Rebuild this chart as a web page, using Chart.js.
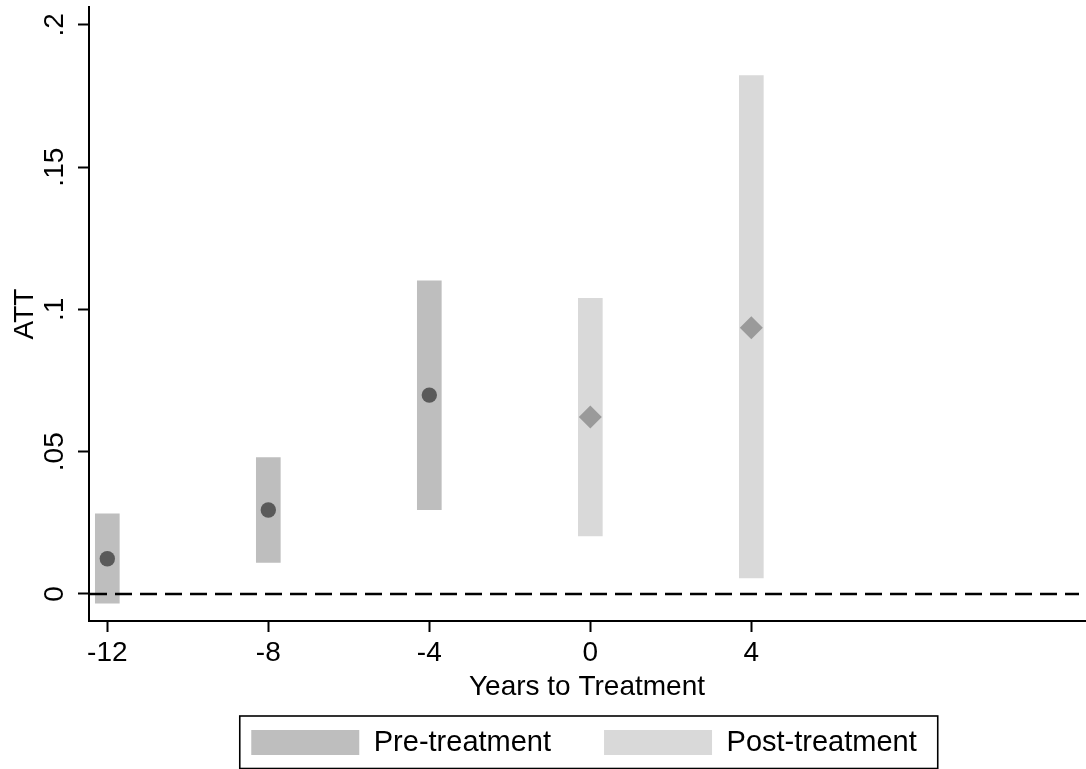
<!DOCTYPE html>
<html>
<head>
<meta charset="utf-8">
<title>ATT by years to treatment</title>
<script src="https://cdn.jsdelivr.net/npm/chart.js@4.4.1/dist/chart.umd.min.js"></script>
<style>
  html, body { margin: 0; padding: 0; background: #ffffff; }
  #wrap { width: 1086px; height: 769px; }
</style>
</head>
<body>
<div id="wrap"><canvas id="c" width="1086" height="769"></canvas></div>
<script>
// Event-time estimates: point estimate with lower / upper confidence bounds
const preYears  = [-12, -8, -4];
const preATT    = [0.0124, 0.0295, 0.0699];
const preLower  = [-0.0032, 0.0111, 0.0296];
const preUpper  = [0.0282, 0.0479, 0.1101];

const postYears = [0, 4];
const postATT   = [0.0622, 0.0936];
const postLower = [0.0204, 0.0056];
const postUpper = [0.1039, 0.1822];

// Axis ticks and labels
const xTicks = [-12, -8, -4, 0, 4];
const yTicks = [0, 0.05, 0.1, 0.15, 0.2];
const yTickLabels = ['0', '.05', '.1', '.15', '.2'];
const xRange = [-12.455, 12.29];
const yRange = [-0.0095, 0.2063];
const zeroLine = 0;

const legendNames = ['Pre-treatment', 'Post-treatment'];

const PRE_BAR = '#bebebe';
const POST_BAR = '#d9d9d9';
const PRE_PT = '#5a5a5a';
const POST_PT = '#9a9a9a';
const FONT = '"Liberation Sans", Arial, Helvetica, sans-serif';

Chart.defaults.font.family = FONT;
Chart.defaults.color = '#000000';

const bandData = (xs, lo, hi) => xs.map((x, i) => ({ x: x, y: [lo[i], hi[i]] }));
const pointData = (xs, v) => xs.map((x, i) => ({ x: x, y: v[i] }));

// Dashed reference line at zero, plus rotated y tick labels
const refLinePlugin = {
  id: 'refLine',
  afterDatasetsDraw(chart) {
    const { ctx, chartArea, scales } = chart;
    const y = scales.y.getPixelForValue(zeroLine);
    ctx.save();
    ctx.strokeStyle = '#000000';
    ctx.lineWidth = 2.6;
    ctx.setLineDash([17, 8]);
    ctx.beginPath();
    ctx.moveTo(chartArea.left + 1, y);
    ctx.lineTo(chartArea.right - 6, y);
    ctx.stroke();
    ctx.restore();
  },
  afterDraw(chart) {
    const { ctx, scales } = chart;
    const ys = scales.y;
    ctx.save();
    ctx.fillStyle = '#000000';
    ctx.font = '28px ' + FONT;
    ctx.textAlign = 'center';
    ctx.textBaseline = 'middle';
    ys.ticks.forEach((t) => {
      const py = ys.getPixelForValue(t.value);
      ctx.save();
      ctx.translate(ys.right - 34, py);
      ctx.rotate(-Math.PI / 2);
      ctx.fillText(t.label, 0, 0);
      ctx.restore();
    });
    ctx.restore();
  }
};

// Legend centred under the plot area, framed by a box
const legendFramePlugin = {
  id: 'legendFrame',
  afterLayout(chart) {
    const lg = chart.legend;
    const ca = chart.chartArea;
    const dx = (ca.left + ca.right) / 2 - 3 - (lg.left + lg.right) / 2;
    lg.left += dx;
    lg.right += dx;
  },
  afterDraw(chart) {
    const lg = chart.legend;
    const hb = lg.legendHitBoxes;
    if (!hb || !hb.length) return;
    const first = hb[0];
    const last = hb[hb.length - 1];
    const cy = first.top + first.height / 2;
    const ctx = chart.ctx;
    const x0 = first.left - 11.5;
    const x1 = last.left + last.width + 21;
    ctx.save();
    ctx.strokeStyle = '#000000';
    ctx.lineWidth = 1.6;
    ctx.strokeRect(x0, cy - 26.5, x1 - x0, 52.5);
    ctx.restore();
  }
};

new Chart(document.getElementById('c'), {
  type: 'bar',
  data: {
    datasets: [
      {
        label: legendNames[0],
        data: bandData(preYears, preLower, preUpper),
        backgroundColor: PRE_BAR,
        borderWidth: 0,
        barThickness: 24,
        grouped: false,
        order: 3
      },
      {
        label: legendNames[1],
        data: bandData(postYears, postLower, postUpper),
        backgroundColor: POST_BAR,
        borderWidth: 0,
        barThickness: 24,
        grouped: false,
        order: 3
      },
      {
        type: 'scatter',
        label: 'pre-point',
        data: pointData(preYears, preATT),
        pointStyle: 'circle',
        pointRadius: 7.7,
        pointHoverRadius: 7.7,
        backgroundColor: PRE_PT,
        borderWidth: 0,
        order: 1
      },
      {
        type: 'scatter',
        label: 'post-point',
        data: pointData(postYears, postATT),
        pointStyle: 'rectRot',
        pointRadius: 11.5,
        pointHoverRadius: 11.5,
        backgroundColor: POST_PT,
        borderWidth: 0,
        order: 1
      }
    ]
  },
  options: {
    responsive: false,
    animation: false,
    devicePixelRatio: 1,
    layout: { autoPadding: false, padding: { top: 7, right: 1, left: 0, bottom: 2 } },
    plugins: {
      tooltip: { enabled: false },
      legend: {
        display: true,
        position: 'bottom',
        align: 'center',
        labels: {
          boxWidth: 108,
          boxHeight: 25,
          padding: 53,
          color: '#000000',
          font: { size: 29, family: FONT },
          generateLabels() {
            return legendNames.map((name, i) => ({
              text: name,
              fillStyle: i === 0 ? PRE_BAR : POST_BAR,
              strokeStyle: 'rgba(0,0,0,0)',
              lineWidth: 0,
              hidden: false,
              datasetIndex: i
            }));
          }
        }
      }
    },
    scales: {
      x: {
        type: 'linear',
        position: 'bottom',
        min: xRange[0],
        max: xRange[1],
        offset: false,
        afterBuildTicks(scale) {
          scale.ticks = xTicks.map((v) => ({ value: v }));
        },
        afterFit(scale) {
          scale.height = 54;
          scale.paddingLeft = 0;
          scale.paddingRight = 0;
        },
        ticks: {
          autoSkip: false,
          maxRotation: 0,
          minRotation: 0,
          padding: 4,
          color: '#000000',
          font: { size: 28, family: FONT },
          callback: (v) => String(v)
        },
        grid: {
          offset: false,
          drawOnChartArea: false,
          drawTicks: true,
          tickLength: 11,
          tickWidth: 2,
          tickColor: '#000000',
          color: '#000000'
        },
        border: { display: true, color: '#000000', width: 2 },
        title: {
          display: true,
          text: 'Years to Treatment',
          color: '#000000',
          font: { size: 28, family: FONT, lineHeight: 1.2 },
          padding: { top: 0, bottom: -29 }
        }
      },
      y: {
        type: 'linear',
        position: 'left',
        min: yRange[0],
        max: yRange[1],
        afterBuildTicks(scale) {
          scale.ticks = yTicks.map((v) => ({ value: v }));
        },
        afterFit(scale) {
          scale.width = 89;
          scale.paddingTop = 0;
          scale.paddingBottom = 0;
        },
        ticks: {
          display: false,
          callback: (v) => yTickLabels[yTicks.indexOf(v)] ?? ''
        },
        grid: {
          offset: false,
          drawOnChartArea: false,
          drawTicks: true,
          tickLength: 11,
          tickWidth: 2,
          tickColor: '#000000',
          color: '#000000'
        },
        border: { display: true, color: '#000000', width: 2 },
        title: {
          display: true,
          text: 'ATT',
          color: '#000000',
          font: { size: 28, family: FONT, lineHeight: 1.2 },
          padding: { top: 8, bottom: 0 }
        }
      }
    }
  },
  plugins: [refLinePlugin, legendFramePlugin]
});
</script>
</body>
</html>
